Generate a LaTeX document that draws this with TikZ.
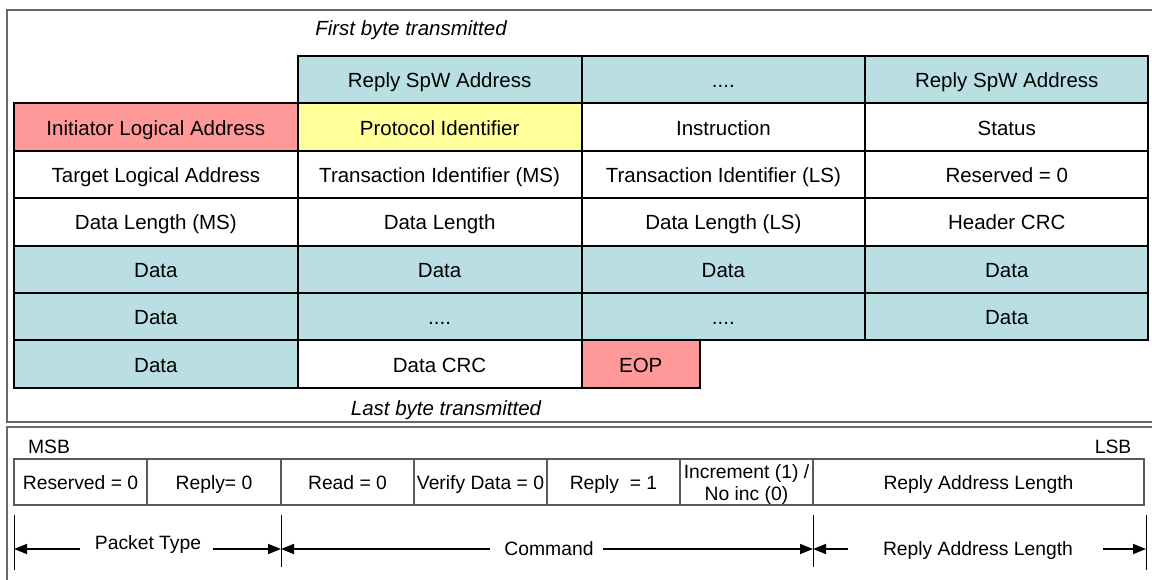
\documentclass[tikz,border=0pt]{standalone}
\usepackage{fontspec}
\setmainfont{Liberation Sans}
\usetikzlibrary{arrows.meta}
\definecolor{tealc}{RGB}{185,223,226}
\definecolor{pinkc}{RGB}{255,153,153}
\definecolor{yellowc}{RGB}{255,255,153}
\definecolor{framec}{RGB}{105,105,105}
\definecolor{fieldc}{RGB}{90,90,90}
\newcommand\fsbig{\fontsize{20.5}{24}\selectfont}
\newcommand\fssmall{\fontsize{19.3}{22.5}\selectfont}
\tikzset{
  frame/.style={draw=framec, line width=1.5pt},
  cell/.style={minimum width=283.75pt, minimum height=47.4pt, inner sep=0pt, outer sep=0pt,
    anchor=north west, font=\fsbig, text height=16pt, text depth=0pt},
  gridline/.style={draw=black, line width=2pt},
  ital/.style={font=\fsbig\itshape, inner sep=0pt},
  plain/.style={font=\fssmall, inner sep=0pt},
  fieldbase/.style={draw=fieldc, line width=1.2pt, minimum height=46pt, inner sep=0pt, outer sep=0pt,
    anchor=north west, font=\fssmall, align=center},
  field/.style={fieldbase, text height=15.5pt, text depth=0pt},
  tick/.style={draw=black, line width=1pt},
  dim/.style={draw=black, line width=1.5pt, -{Triangle[length=13pt,width=10pt]}},
}
\begin{document}
\begin{tikzpicture}[x=1pt,y=-1pt]
\useasboundingbox (0,0) rectangle (1152,580);
\clip (0,0) rectangle (1152,580);

% outer frames
\draw[frame] (7,10) rectangle (1175,422);
\draw[frame] (7,427) rectangle (1175,610);

% packet header rows (fills first, borders afterwards)
\node[cell,fill=tealc] (r1c2) at (297.75,56) {Reply SpW Address};
\node[cell,fill=tealc] (r1c3) at (581.5,56) {....};
\node[cell,fill=tealc,minimum width=283pt] (r1c4) at (865.25,56) {Reply SpW Address};

\node[cell,fill=pinkc] (r2c1) at (14,103.4) {Initiator Logical Address};
\node[cell,fill=yellowc] (r2c2) at (297.75,103.4) {Protocol Identifier};
\node[cell,fill=white] (r2c3) at (581.5,103.4) {Instruction};
\node[cell,fill=white,minimum width=283pt] (r2c4) at (865.25,103.4) {Status};

\node[cell,fill=white] (r3c1) at (14,150.8) {Target Logical Address};
\node[cell,fill=white] (r3c2) at (297.75,150.8) {Transaction Identifier (MS)};
\node[cell,fill=white] (r3c3) at (581.5,150.8) {Transaction Identifier (LS)};
\node[cell,fill=white,minimum width=283pt] (r3c4) at (865.25,150.8) {Reserved = 0};

\node[cell,fill=white] (r4c1) at (14,198.2) {Data Length (MS)};
\node[cell,fill=white] (r4c2) at (297.75,198.2) {Data Length};
\node[cell,fill=white] (r4c3) at (581.5,198.2) {Data Length (LS)};
\node[cell,fill=white,minimum width=283pt] (r4c4) at (865.25,198.2) {Header CRC};

\node[cell,fill=tealc] (r5c1) at (14,245.6) {Data};
\node[cell,fill=tealc] (r5c2) at (297.75,245.6) {Data};
\node[cell,fill=tealc] (r5c3) at (581.5,245.6) {Data};
\node[cell,fill=tealc,minimum width=283pt] (r5c4) at (865.25,245.6) {Data};

\node[cell,fill=tealc] (r6c1) at (14,293) {Data};
\node[cell,fill=tealc] (r6c2) at (297.75,293) {....};
\node[cell,fill=tealc] (r6c3) at (581.5,293) {....};
\node[cell,fill=tealc,minimum width=283pt] (r6c4) at (865.25,293) {Data};

\node[cell,fill=tealc] (r7c1) at (14,340.4) {Data};
\node[cell,fill=white] (r7c2) at (297.75,340.4) {Data CRC};
\node[cell,fill=pinkc,minimum width=118.5pt] (r7c3) at (581.5,340.4) {EOP};

\foreach \n in {r1c2,r1c3,r1c4,r2c1,r2c2,r2c3,r2c4,r3c1,r3c2,r3c3,r3c4,
                r4c1,r4c2,r4c3,r4c4,r5c1,r5c2,r5c3,r5c4,r6c1,r6c2,r6c3,r6c4,
                r7c1,r7c2,r7c3}
  \draw[gridline] (\n.north west) rectangle (\n.south east);

\node[ital] (first) at (411,30) {First byte transmitted};
\node[ital] (last) at (446,410) {Last byte transmitted};

% instruction field bits
\node[plain] (msb) at (49,447) {MSB};
\node[plain] (lsb) at (1113,447) {LSB};

\node[field,minimum width=133pt] (f1) at (14,459) {Reserved = 0};
\node[field,minimum width=134pt] (f2) at (147,459) {Reply= 0};
\node[field,minimum width=133pt] (f3) at (281,459) {Read = 0};
\node[field,minimum width=133pt] (f4) at (414,459) {Verify Data = 0};
\node[field,minimum width=133pt] (f5) at (547,459) {Reply\ \ = 1};
\node[fieldbase,minimum width=133pt] (f6) at (680,459) {\strut\raisebox{-3pt}{Increment (1) /}\\\raisebox{-3pt}{No inc (0)}};
\node[field,minimum width=331pt] (f7) at (813,459) {Reply Address Length};

% dimension lines
\coordinate (k0t) at (14,515);   \coordinate (k0b) at (14,570);
\coordinate (k1t) at (281,515);  \coordinate (k1b) at (281,567);
\coordinate (k2t) at (813,515);  \coordinate (k2b) at (813,567);
\coordinate (k3t) at (1146,515); \coordinate (k3b) at (1146,570);
\draw[tick] (k0t) -- (k0b);
\draw[tick] (k1t) -- (k1b);
\draw[tick] (k2t) -- (k2b);
\draw[tick] (k3t) -- (k3b);

\coordinate (k0) at (14,549);
\coordinate (k1) at (281,549);
\coordinate (k2) at (813,549);
\coordinate (k3) at (1146,549);

\node[plain] (ptype) at (148,545) {Packet Type};
\node[plain] (cmd) at (549,549) {Command};
\node[plain] (ral) at (978,551) {Reply Address Length};

\coordinate (a1) at (80,549);
\coordinate (a2) at (213,549);
\coordinate (a3) at (490,549);
\coordinate (a4) at (603,549);
\coordinate (a5) at (848,549);
\coordinate (a6) at (1103,549);

\draw[dim] (a1) -- (k0);
\draw[dim] (a2) -- (k1);
\draw[dim] (a3) -- (k1);
\draw[dim] (a4) -- (k2);
\draw[dim] (a5) -- (k2);
\draw[dim] (a6) -- (k3);
\end{tikzpicture}
\end{document}
